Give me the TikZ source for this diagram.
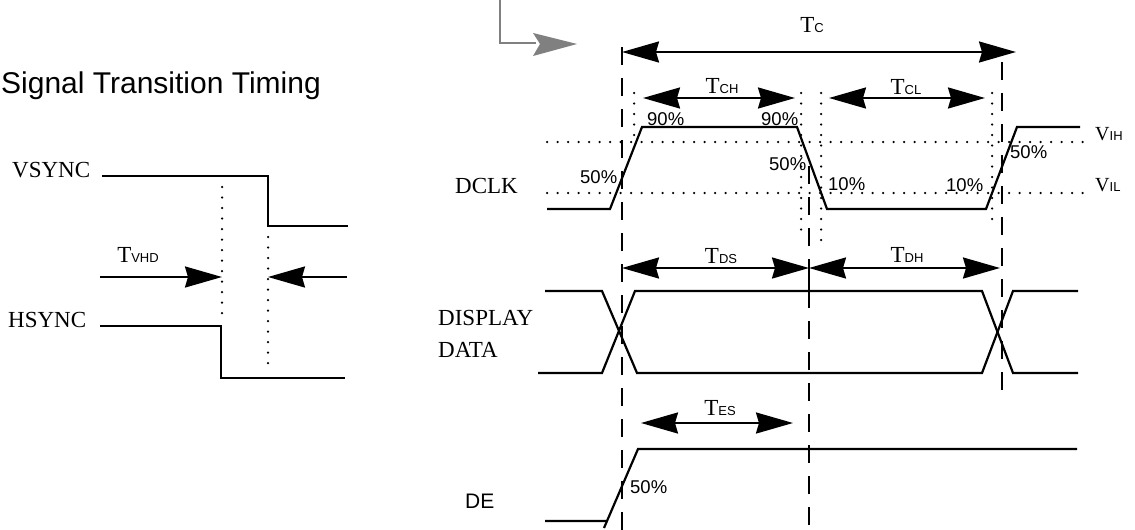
\documentclass[tikz,border=0pt]{standalone}
\usepackage{fontspec}
\setmainfont{Liberation Serif}
\setsansfont{Liberation Sans}
\usetikzlibrary{arrows.meta}
\tikzset{
  sig/.style={line width=2.2pt, line join=miter},
  dotln/.style={line width=2.5pt, dash pattern=on 0pt off 10.5pt, line cap=round},
  dashln/.style={line width=2.1pt, dash pattern=on 18pt off 13pt},
  bigtip/.tip={Stealth[length=37pt,width=21pt,inset=3pt]},
  dim/.style={line width=2.2pt, bigtip-bigtip},
  onetip/.style={line width=2.2pt, -bigtip},
  sname/.style={font=\fontsize{23}{23}\selectfont, anchor=base west, inner sep=0pt},
  pct/.style={font=\sffamily\fontsize{18.5}{18.5}\selectfont, anchor=base west, inner sep=0pt},
  tlab/.style={font=\fontsize{23}{23}\selectfont, anchor=base, inner sep=0pt},
  vlab/.style={font=\fontsize{20}{20}\selectfont, anchor=base west, inner sep=0pt},
  title/.style={font=\sffamily\fontsize{30}{30}\selectfont, anchor=base west, inner sep=0pt},
}
\newcommand{\sub}[1]{{\sffamily\fontsize{13}{13}\selectfont #1}}
\begin{document}
\begin{tikzpicture}[x=1pt,y=-1pt]
\useasboundingbox (0,0) rectangle (1135,530);

% ---------------- left part ----------------
\node[title] (ttl) at (1,93) {Signal Transition Timing};
\node[sname] (vs) at (12,177) {VSYNC};
\node[sname] (hs) at (8,327) {HSYNC};

\draw[sig] (102,176) -- (268,176) -- (268,226) -- (348,226);
\draw[sig] (100,326) -- (221,326) -- (221,378) -- (345,378);

\draw[dotln] (222,187) -- (222,322);
\draw[dotln] (268,237) -- (268,370);

\coordinate (vhdA) at (100,277);
\coordinate (vhdB) at (222,277);
\coordinate (vhdC) at (347,277);
\coordinate (vhdD) at (268,277);
\draw[onetip] (vhdA) -- (vhdB);
\draw[onetip] (vhdC) -- (vhdD);
\node[tlab] (tvhd) at (138,262) {T\sub{VHD}};

% ---------------- grey L arrow ----------------
\draw[line width=2.2pt, black!50] (500,0) -- (500,43) -- (536,43);
\fill[black!50] (533,33) -- (577,44) -- (533,56) -- (540,44) -- cycle;

% ---------------- reference lines ----------------
\draw[dashln] (622,47) -- (622,530);
\draw[dashln] (809,166) -- (809,530);
\draw[dashln] (1002,62) -- (1002,392);

\draw[dotln] (547,142) -- (1092,142);
\draw[dotln] (547,193) -- (1092,193);
\draw[dotln] (634,93) -- (634,140);
\draw[dotln] (801,93) -- (801,236);
\draw[dotln] (821,93) -- (821,246);
\draw[dotln] (992,93) -- (992,226);

% ---------------- DCLK ----------------
\node[sname] (dclk) at (455,193) {DCLK};
\draw[sig] (547,209) -- (610,209) -- (642,127) -- (797,127) -- (827,209)
           -- (986,209) -- (1017,127) -- (1080,127);
\node[vlab] (vih) at (1095,140) {V\sub{IH}};
\node[vlab] (vil) at (1095,191) {V\sub{IL}};

\node[pct] (p1) at (580,183) {50\%};
\node[pct] (p2) at (647,125) {90\%};
\node[pct] (p3) at (761,125) {90\%};
\node[pct] (p4) at (769,170) {50\%};
\node[pct] (p5) at (828,190) {10\%};
\node[pct] (p6) at (946,191) {10\%};
\node[pct] (p7) at (1010,158) {50\%};

% timing arrows
\coordinate (tcA) at (622,52);  \coordinate (tcB) at (1016,52);
\draw[dim] (tcA) -- (tcB);
\node[tlab] (tc) at (812,32) {T\sub{C}};

\coordinate (tchA) at (643,98); \coordinate (tchB) at (795,98);
\draw[dim] (tchA) -- (tchB);
\node[tlab] (tch) at (722,93) {T\sub{CH}};

\coordinate (tclA) at (829,98); \coordinate (tclB) at (985,98);
\draw[dim] (tclA) -- (tclB);
\node[tlab] (tcl) at (906,94) {T\sub{CL}};

% ---------------- DISPLAY DATA ----------------
\node[sname] (dd1) at (438,325) {DISPLAY};
\node[sname] (dd2) at (438,357) {DATA};
\draw[sig] (545,291) -- (602,291) -- (637,373) -- (982,373) -- (1013,291) -- (1078,291);
\draw[sig] (538,373) -- (602,373) -- (635,291) -- (982,291) -- (1013,373) -- (1078,373);

\coordinate (tdsA) at (622,268); \coordinate (tdsB) at (809,268);
\coordinate (tdhB) at (1000,268);
\draw[dim] (tdsA) -- (tdsB);
\draw[dim] (tdsB) -- (tdhB);
\draw[sig] (tdsB) -- (809,291);
\node[tlab] (tds) at (721,263) {T\sub{DS}};
\node[tlab] (tdh) at (907,262) {T\sub{DH}};

% ---------------- DE ----------------
\node[sname, font=\sffamily\fontsize{21}{21}\selectfont] (de) at (465,508) {DE};
\draw[sig] (545,521) -- (607,521) -- (638,449) -- (1077,449);
\draw[sig] (604,528) -- (607,521);
\node[pct] (p8) at (630,493) {50\%};

\coordinate (tesA) at (641,423); \coordinate (tesB) at (793,423);
\draw[dim] (tesA) -- (tesB);
\node[tlab] (tes) at (720,415) {T\sub{ES}};
\end{tikzpicture}
\end{document}
